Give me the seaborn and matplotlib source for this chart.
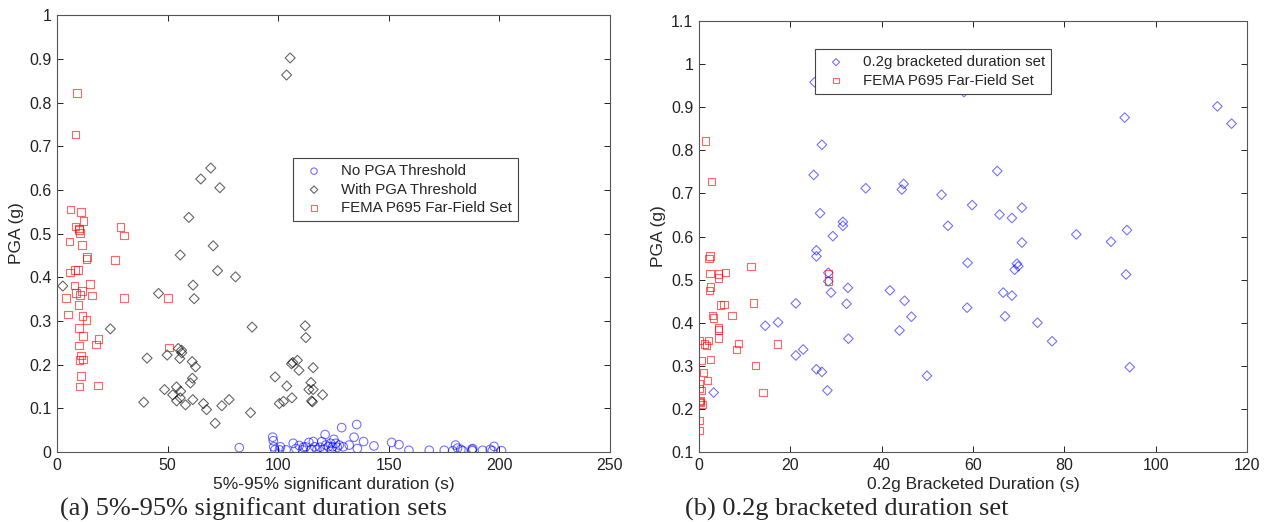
import seaborn as sns
import matplotlib.pyplot as plt
import pandas as pd

sns.set_style("ticks")
plt.rcParams['font.family'] = ['Liberation Sans', 'DejaVu Sans']

# ----------- (a) 5%-95% significant duration -----------
no_thr_dur = [82.4, 97.5, 97.8, 98.0, 98.5, 100.6, 101.0, 103.6, 106.8, 108.0, 109.5, 111.0,
              111.4, 112.4, 113.9, 115.0, 115.9, 116.5, 117.5, 118.9, 119.7, 120.5, 121.2, 121.5,
              122.7, 123.7, 124.0, 124.6, 125.2, 126.0, 126.7, 127.6, 128.7, 129.4, 132.1, 134.3,
              135.5, 135.8, 138.6, 143.3, 151.3, 154.6, 159.1, 168.3, 175.1, 178.9, 180.2, 181.1,
              182.6, 183.5, 187.6, 187.8, 188.0, 192.4, 195.9, 196.8, 197.6, 201.0]
no_thr_pga = [0.010, 0.034, 0.026, 0.012, 0.005, 0.005, 0.012, 0.005, 0.020, 0.008, 0.015, 0.005,
              0.011, 0.012, 0.022, 0.006, 0.024, 0.012, 0.005, 0.011, 0.024, 0.006, 0.040, 0.016,
              0.012, 0.020, 0.004, 0.012, 0.029, 0.020, 0.011, 0.016, 0.056, 0.012, 0.016, 0.034,
              0.063, 0.008, 0.024, 0.014, 0.022, 0.017, 0.004, 0.004, 0.004, 0.003, 0.016, 0.009,
              0.006, 0.003, 0.006, 0.003, 0.008, 0.004, 0.006, 0.003, 0.013, 0.003]

thr_dur = [105.4, 103.8, 69.5, 65.0, 73.6, 59.6, 55.7, 70.6, 72.6, 80.7, 61.5, 62.0, 45.9, 2.6,
           24.1, 88.2, 40.7, 49.8, 54.8, 56.3, 56.4, 55.5, 61.1, 62.6, 61.2, 60.3, 48.6, 54.0,
           55.9, 52.3, 54.1, 55.7, 58.1, 61.4, 39.2, 66.2, 67.6, 71.5, 74.5, 77.8, 87.5, 98.6,
           100.5, 102.4, 103.9, 106.2, 106.0, 106.6, 108.7, 109.4, 112.2, 112.5, 115.8, 114.8,
           113.9, 115.8, 115.1, 115.5, 120.1]
thr_pga = [0.902, 0.863, 0.650, 0.625, 0.605, 0.537, 0.451, 0.472, 0.415, 0.401, 0.382, 0.351,
           0.363, 0.380, 0.282, 0.286, 0.215, 0.222, 0.237, 0.233, 0.227, 0.214, 0.207, 0.195,
           0.169, 0.158, 0.143, 0.149, 0.139, 0.131, 0.117, 0.124, 0.108, 0.120, 0.114, 0.111,
           0.097, 0.066, 0.106, 0.120, 0.090, 0.172, 0.111, 0.116, 0.151, 0.124, 0.202, 0.205,
           0.210, 0.187, 0.289, 0.262, 0.193, 0.159, 0.143, 0.143, 0.117, 0.115, 0.131]

fema_sig_dur = [9.0, 8.3, 6.0, 10.7, 11.9, 8.3, 10.0, 9.8, 10.4, 28.7, 30.3, 5.6, 11.3, 13.6,
                13.3, 26.2, 5.9, 8.1, 9.4, 14.9, 7.8, 4.1, 8.7, 11.2, 10.4, 15.8, 30.3, 50.2, 9.7,
                5.0, 11.5, 13.4, 10.0, 11.6, 18.7, 17.5, 10.0, 50.7, 10.7, 10.1, 11.8, 10.9, 10.1,
                18.4]
fema_sig_pga = [0.822, 0.727, 0.555, 0.550, 0.529, 0.516, 0.512, 0.508, 0.502, 0.515, 0.496,
                0.482, 0.474, 0.447, 0.442, 0.440, 0.411, 0.417, 0.416, 0.385, 0.381, 0.352,
                0.364, 0.368, 0.359, 0.358, 0.353, 0.352, 0.337, 0.315, 0.312, 0.302, 0.284,
                0.266, 0.259, 0.246, 0.244, 0.239, 0.221, 0.210, 0.212, 0.174, 0.150, 0.152]

# ----------- (b) 0.2g bracketed duration -----------
brk_dur = [25.3, 26.9, 25.1, 26.5, 36.5, 44.4, 44.8, 53.1, 54.5, 31.5, 31.5, 29.3,
           58.0, 93.2, 113.5, 116.6, 65.3, 59.8, 65.8, 68.5, 70.7, 82.6, 90.2, 93.7, 70.7,
           58.8, 69.6, 69.9, 69.1, 93.5, 66.6, 68.5, 58.7, 67.0, 74.1, 77.3, 94.3,
           25.7, 25.7, 28.3, 28.3, 28.9, 32.6, 32.3, 21.2, 17.3, 14.5, 32.7, 22.8, 21.2, 25.7,
           26.9, 28.1, 3.2, 41.8, 45.0, 46.5, 43.9, 49.9]
brk_pga = [0.958, 0.813, 0.743, 0.654, 0.712, 0.709, 0.722, 0.697, 0.625, 0.634, 0.625, 0.601,
           0.935, 0.876, 0.902, 0.862, 0.752, 0.673, 0.651, 0.643, 0.667, 0.605, 0.588, 0.615,
           0.586, 0.539, 0.537, 0.531, 0.523, 0.512, 0.470, 0.463, 0.435, 0.415, 0.400, 0.357,
           0.297, 0.568, 0.554, 0.516, 0.496, 0.470, 0.481, 0.444, 0.445, 0.401, 0.393, 0.363,
           0.338, 0.324, 0.292, 0.286, 0.243, 0.238, 0.475, 0.451, 0.414, 0.382, 0.277]

fema_brk_dur = [1.4, 2.7, 2.4, 2.2, 2.4, 4.2, 4.2, 5.8, 11.4, 2.5, 2.3, 4.7, 5.5, 11.9, 3.0,
                3.2, 7.2, 4.3, 4.3, 4.3, 0.1, 2.0, 1.2, 1.6, 8.7, 8.2, 17.2, 0.4, 2.5, 12.3, 1.0,
                1.8, 0.0, 0.0, 0.4, 14.0, 0.1, 0.7, 0.0, 0.0, 28.3, 28.3, 0.2, 0.3]
fema_brk_pga = [0.822, 0.728, 0.555, 0.549, 0.514, 0.513, 0.504, 0.517, 0.531, 0.483, 0.475,
                0.441, 0.443, 0.446, 0.417, 0.411, 0.417, 0.388, 0.383, 0.365, 0.359, 0.359,
                0.351, 0.347, 0.352, 0.338, 0.351, 0.312, 0.315, 0.301, 0.284, 0.266, 0.259,
                0.247, 0.243, 0.238, 0.218, 0.211, 0.173, 0.150, 0.515, 0.497, 0.220, 0.215]

fig = plt.figure(figsize=(12.68, 5.22), dpi=100)
ax1 = fig.add_axes([0.045, 0.134, 0.436, 0.837])
ax2 = fig.add_axes([0.5513, 0.134, 0.4322, 0.8257])


def hollow(ax, x, y, marker, color, size, label, alpha):
    sns.scatterplot(x=x, y=y, ax=ax, marker=marker, s=size, facecolors='none',
                    edgecolor=color, linewidth=0.8, alpha=alpha, label=label)


hollow(ax1, no_thr_dur, no_thr_pga, 'o', '#0000ff', 38, 'No PGA Threshold', 0.55)
hollow(ax1, thr_dur, thr_pga, 'D', '#000000', 26, 'With PGA Threshold', 0.6)
hollow(ax1, fema_sig_dur, fema_sig_pga, 's', '#ff0000', 30, 'FEMA P695 Far-Field Set', 0.6)

hollow(ax2, brk_dur, brk_pga, 'D', '#0000ff', 24, '0.2g bracketed duration set', 0.55)
hollow(ax2, fema_brk_dur, fema_brk_pga, 's', '#ff0000', 28, 'FEMA P695 Far-Field Set', 0.6)

ax1.set_xlim(0, 250)
ax1.set_ylim(0, 1)
ax1.set_xticks(range(0, 251, 50))
ax1.set_yticks([i / 10 for i in range(11)])
ax1.set_yticklabels(['0'] + ['%.1f' % (i / 10) for i in range(1, 10)] + ['1'])
ax1.set_xlabel('5%-95% significant duration (s)', fontsize=12.5, labelpad=3)
ax1.set_ylabel('PGA (g)', fontsize=12.5, labelpad=4)

ax2.set_xlim(0, 120)
ax2.set_ylim(0.1, 1.1)
ax2.set_xticks(range(0, 121, 20))
ax2.set_yticks([i / 10 for i in range(1, 12)])
ax2.set_yticklabels(['%.1f' % (i / 10) for i in range(1, 10)] + ['1', '1.1'])
ax2.set_xlabel('0.2g Bracketed Duration (s)', fontsize=12.5, labelpad=3)
ax2.set_ylabel('PGA (g)', fontsize=12.5, labelpad=4)

for ax in (ax1, ax2):
    ax.tick_params(direction='in', length=4.5, width=0.7, labelsize=11.5, colors='#222222',
                   top=True, right=True, pad=4)
    for sp in ax.spines.values():
        sp.set_visible(True)
        sp.set_color('#555555')
        sp.set_linewidth(0.8)

leg1 = ax1.legend(loc='upper left', bbox_to_anchor=(0.4268, 0.6728), fontsize=10.8,
                  fancybox=False, framealpha=1, edgecolor='#444444', markerscale=0.75,
                  handletextpad=0.8, borderpad=0.4, labelspacing=0.3, borderaxespad=0)
leg2 = ax2.legend(loc='upper left', bbox_to_anchor=(0.2117, 0.935), fontsize=10.8,
                  fancybox=False, framealpha=1, edgecolor='#444444', markerscale=0.75,
                  handletextpad=0.8, borderpad=0.4, labelspacing=0.3, borderaxespad=0)
for leg in (leg1, leg2):
    leg.get_frame().set_linewidth(0.8)

fig.text(0.047, 0.013, '(a) 5%-95% significant duration sets', fontsize=19,
         family='Liberation Serif', va='baseline')
fig.text(0.540, 0.013, '(b) 0.2g bracketed duration set', fontsize=19,
         family='Liberation Serif', va='baseline')

fig.savefig('out.png', dpi=100)
